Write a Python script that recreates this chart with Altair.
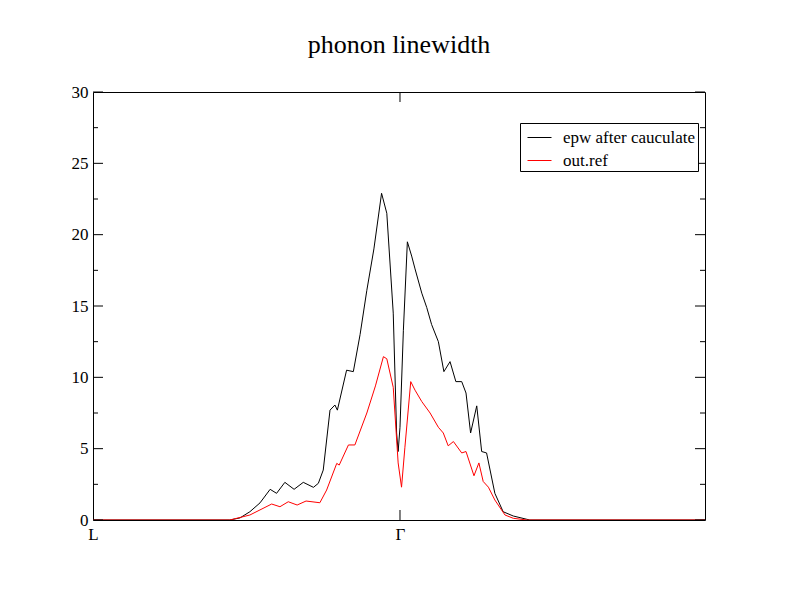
import altair as alt
import pandas as pd

# k-path coordinate (L = 0, Gamma = 1) and linewidth values
x_epw = [0.0, 0.446, 0.479, 0.511, 0.544, 0.577, 0.598, 0.625, 0.655, 0.685, 0.718, 0.734,
         0.750, 0.772, 0.788, 0.796, 0.826, 0.848, 0.870, 0.892, 0.915, 0.940, 0.957, 0.978,
         0.989, 0.994, 1.000, 1.011, 1.024, 1.038, 1.049, 1.071, 1.087, 1.103, 1.125, 1.143,
         1.163, 1.182, 1.201, 1.215, 1.230, 1.250, 1.266, 1.282, 1.309, 1.336, 1.369, 1.413,
         1.423, 1.9935]
y_epw = [0.0, 0.0, 0.15, 0.58, 1.2, 2.15, 1.87, 2.64, 2.15, 2.64, 2.29, 2.57,
         3.5, 7.7, 8.06, 7.7, 10.5, 10.4, 13.0, 16.1, 19.0, 22.9, 21.5, 14.5,
         6.1, 4.8, 6.5, 13.3, 19.5, 18.5, 17.6, 15.9, 14.9, 13.7, 12.5, 10.4,
         11.1, 9.7, 9.7, 8.9, 6.1, 8.0, 4.8, 4.7, 1.87, 0.58, 0.28, 0.05,
         0.0, 0.0]

x_ref = [0.0, 0.446, 0.511, 0.582, 0.609, 0.636, 0.665, 0.694, 0.739, 0.761, 0.794, 0.802,
         0.832, 0.853, 0.892, 0.920, 0.946, 0.957, 0.978, 0.994, 1.005, 1.016, 1.035, 1.049,
         1.071, 1.098, 1.125, 1.141, 1.157, 1.174, 1.201, 1.215, 1.241, 1.257, 1.271, 1.288,
         1.309, 1.342, 1.369, 1.413, 1.9935]
y_ref = [0.0, 0.0, 0.35, 1.12, 0.93, 1.28, 1.05, 1.33, 1.21, 2.1, 3.97, 3.85,
         5.26, 5.26, 7.5, 9.4, 11.45, 11.3, 9.3, 4.0, 2.3, 5.1, 9.7, 9.1,
         8.3, 7.5, 6.5, 6.1, 5.2, 5.5, 4.7, 4.8, 3.1, 4.0, 2.7, 2.3,
         1.4, 0.35, 0.12, 0.0, 0.0]

series_names = ["epw after cauculate", "out.ref"]
series_colors = ["black", "red"]

major_ticks = [0, 5, 10, 15, 20, 25, 30]
minor_ticks = [2.5, 7.5, 12.5, 17.5, 22.5, 27.5]
x_tick_values = [0, 1]
x_tick_labels = ["L", "Γ"]

W, H = 612, 428
FONT = "Liberation Serif"

df = pd.concat([
    pd.DataFrame({"k": x_epw, "gamma": y_epw, "series": series_names[0], "order": range(len(x_epw))}),
    pd.DataFrame({"k": x_ref, "gamma": y_ref, "series": series_names[1], "order": range(len(x_ref))}),
])

xscale = alt.Scale(domain=[0, 1.9935], nice=False, zero=False)
yscale = alt.Scale(domain=[0, 30], nice=False)

label_expr = "datum.value == 0 ? '" + x_tick_labels[0] + "' : '" + x_tick_labels[1] + "'"

lines = alt.Chart(df).mark_line(strokeWidth=1, clip=True).encode(
    x=alt.X("k:Q", scale=xscale,
            axis=alt.Axis(values=x_tick_values, labelExpr=label_expr, title=None, grid=False,
                          domain=False, ticks=False, tickSize=0, labelPadding=6,
                          labelFont=FONT, labelFontSize=17, labelColor="black",
                          labelFlush=False, labelOverlap=False)),
    y=alt.Y("gamma:Q", scale=yscale,
            axis=alt.Axis(values=major_ticks, title=None, grid=False, domain=False,
                          ticks=False, tickSize=0, labelPadding=5,
                          labelFont=FONT, labelFontSize=17, labelColor="black")),
    color=alt.Color("series:N",
                    scale=alt.Scale(domain=series_names, range=series_colors),
                    legend=alt.Legend(title=None, orient="none", legendX=427, legendY=31,
                                      symbolType="stroke", symbolSize=576, symbolStrokeWidth=1,
                                      symbolOffset=5,
                                      labelFont=FONT, labelFontSize=17, labelColor="black",
                                      labelOffset=11, rowPadding=2, padding=2,
                                      strokeColor="black", fillColor="white")),
    order="order:Q",
)

tdf_major = pd.DataFrame({"v": major_ticks})
tdf_minor = pd.DataFrame({"v": minor_ticks})

left_major = alt.Chart(tdf_major).mark_rule(color="black", strokeWidth=1).encode(
    y=alt.Y("v:Q", scale=yscale), x=alt.value(0), x2=alt.value(10))
right_major = alt.Chart(tdf_major).mark_rule(color="black", strokeWidth=1).encode(
    y=alt.Y("v:Q", scale=yscale), x=alt.value(W - 10), x2=alt.value(W))
left_minor = alt.Chart(tdf_minor).mark_rule(color="black", strokeWidth=1).encode(
    y=alt.Y("v:Q", scale=yscale), x=alt.value(0), x2=alt.value(5))
right_minor = alt.Chart(tdf_minor).mark_rule(color="black", strokeWidth=1).encode(
    y=alt.Y("v:Q", scale=yscale), x=alt.value(W - 5), x2=alt.value(W))

gdf = pd.DataFrame({"k": [x_tick_values[1]]})
g_bottom = alt.Chart(gdf).mark_rule(color="black", strokeWidth=1).encode(
    x=alt.X("k:Q", scale=xscale), y=alt.value(H - 10), y2=alt.value(H))
g_top = alt.Chart(gdf).mark_rule(color="black", strokeWidth=1).encode(
    x=alt.X("k:Q", scale=xscale), y=alt.value(0), y2=alt.value(10))

chart = alt.layer(lines, left_major, right_major, left_minor, right_minor, g_bottom, g_top).properties(
    width=W, height=H,
    background="white",
    title=alt.Title("phonon linewidth", font=FONT, fontSize=26, fontWeight="normal",
                    color="black", anchor="middle", baseline="bottom", offset=32, dy=33),
    autosize=alt.AutoSizeParams(type="none"),
    padding={"left": 93, "top": 92, "right": 87, "bottom": 92},
).configure_view(stroke="black", strokeWidth=1)

chart.save("out.html", embed_options={"renderer": "svg", "actions": False})
